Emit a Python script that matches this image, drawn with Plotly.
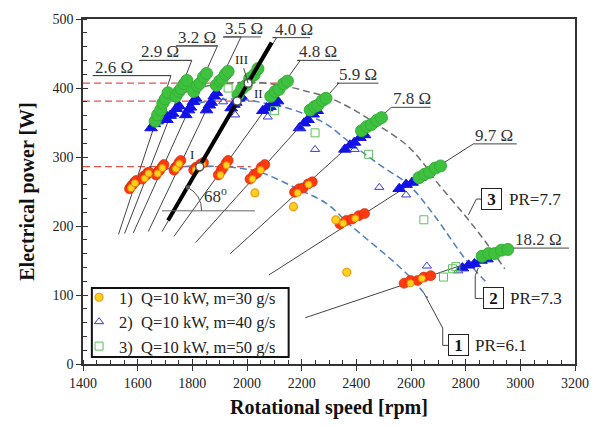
import plotly.graph_objects as go

FONT = "Liberation Serif"

# ---------------- data ----------------
res_labels = ["2.6 Ω", "2.9 Ω", "3.2 Ω", "3.5 Ω", "4.0 Ω", "4.8 Ω", "5.9 Ω", "7.8 Ω", "9.7 Ω", "18.2 Ω"]
line_bottom_x = [1530, 1552, 1584, 1639, 1689, 1733, 1812, 1939, 2080, 2213]
line_bottom_y = [188, 189, 190, 192, 192, 185, 176, 160, 129, 67]
line_top_x = [1722, 1798, 1892, 1978, 2108, 2195, 2336, 2528, 2828, 2972]
line_top_y = [418, 440, 461, 474, 473, 440, 407, 372, 319, 168]
underline_left = [1436, 1606, 1740, 1913, 2094, 2184, 2329, 2528, 2828, 2972]
underline_right = [1722, 1798, 1892, 2051, 2231, 2340, 2481, 2672, 2987, 3178]

# series 1 (m=30 g/s) measured clusters
red_x = [1570, 1577, 1582, 1590, 1595,  1617, 1622, 1630, 1636, 1642,  1667, 1675, 1681, 1690, 1696,
         1733, 1738, 1746, 1751, 1758,  1805, 1813, 1824, 1831, 1841,  1895, 1905, 1912, 1923, 1931,
         2011, 2025, 2037, 2052, 2065,  2174, 2191, 2205, 2224, 2239,  2340, 2363, 2384, 2409, 2430,
         2575, 2598, 2624, 2647, 2672]
red_y = [254, 258, 260, 264, 266,  268, 272, 273, 277, 278,  274, 279, 281, 286, 289,
         281, 285, 287, 292, 295,  281, 285, 286, 290, 292,  274, 280, 284, 291, 295,
         268, 274, 277, 285, 289,  249, 254, 255, 261, 264,  203, 208, 210, 215, 218,
         117, 121, 121, 126, 128]
yel_x = [1576, 1590, 1626, 1640, 1673, 1690, 1740, 1752, 1812, 1836, 1903, 1925, 2020, 2050,
         2185, 2225, 2352, 2396, 2598, 2640]
yel_y = [255, 262, 269, 276, 276, 284, 283, 290, 281, 289, 274, 288, 268, 281,
         248, 260, 204, 211, 117, 124]

# series 2 (m=40 g/s) measured clusters
blue_x = [1649, 1661, 1671, 1685, 1696,  1707, 1719, 1728, 1741, 1751,  1776, 1786, 1793, 1804, 1812,
          1852, 1862, 1869, 1880, 1888,  1942, 1952, 1959, 1970, 1978,  2058, 2072, 2084, 2099, 2112,
          2192, 2209, 2223, 2242, 2257,  2358, 2377, 2393, 2413, 2430,  2557, 2582, 2604, 2631, 2654,
          2788, 2811, 2832, 2856, 2878]
blue_y = [342, 348, 352, 360, 364,  354, 360, 363, 370, 374,  361, 368, 372, 380, 385,
          368, 375, 379, 388, 393,  371, 376, 379, 385, 388,  367, 371, 373, 378, 381,
          342, 349, 354, 362, 367,  311, 317, 321, 328, 332,  254, 260, 263, 270, 274,
          139, 143, 145, 150, 152]

# series 3 (m=50 g/s) measured clusters
green_x = [1664, 1673, 1684, 1692, 1701, 1711,  1740, 1751, 1759, 1771, 1780,  1805, 1818, 1828, 1841, 1852,
           1888, 1900, 1909, 1921, 1931,  1967, 1981, 1997, 2010, 2026, 2040,  2087, 2103, 2117, 2134, 2148,
           2231, 2247, 2259, 2276, 2289,  2419, 2438, 2455, 2475, 2492,  2629, 2650, 2668, 2689, 2708,
           2860, 2884, 2906, 2931, 2954]
green_y = [352, 361, 368, 378, 384, 393,  388, 395, 399, 406, 411,  395, 403, 407, 416, 421,
           404, 410, 413, 420, 424,  390, 399, 404, 414, 419, 428,  388, 395, 398, 406, 410,
           368, 373, 375, 382, 385,  338, 344, 347, 353, 357,  270, 275, 278, 284, 287,
           156, 160, 160, 165, 166]

# scattered single measurements (legend series)
out1_x = [2029, 2170, 2325, 2365]
out1_y = [248, 228, 209, 133]
out2_x = [1913, 1957, 2076, 2195, 2249, 2394, 2484, 2582, 2658, 2773]
out2_y = [380, 361, 358, 342, 311, 311, 256, 245, 142, 135]
out3_x = [1931, 2101, 2249, 2445, 2647, 2719, 2752, 2764]
out3_y = [400, 367, 335, 304, 209, 126, 138, 141]
series_names = ["1)  Q=10 kW, m=30 g/s", "2)  Q=10 kW, m=40 g/s", "3)  Q=10 kW, m=50 g/s"]

# constant pressure-ratio curves
pr61_x = [1617, 1722, 1848, 1967, 2047, 2184, 2293, 2376, 2546, 2611, 2661]
pr61_y = [271, 284, 287, 284, 278, 254, 232, 202, 145, 120, 96]
pr73_x = [1678, 1733, 1798, 1895, 1993, 2065, 2148, 2220, 2293, 2376, 2484, 2593, 2680, 2799, 2872]
pr73_y = [350, 364, 375, 383, 383, 378, 371, 361, 347, 321, 289, 259, 218, 152, 120]
pr77_x = [1769, 1823, 1931, 2040, 2137, 2220, 2293, 2383, 2484, 2582, 2643, 2690, 2755, 2810, 2871, 2943]
pr77_y = [393, 400, 407, 408, 403, 395, 387, 370, 345, 318, 292, 266, 235, 209, 178, 138]

# optimum line and points I, II, III
thick_x = [1711, 2090]
thick_y = [208, 466]
opt_labels = ["I", "II", "III"]
opt_x = [1827, 1964, 2004]
opt_y = [286, 381, 407]
red_line_end = [2014, 2029, 2112]

# PR boxes
pr_num = ["1", "2", "3"]
pr_txt = ["PR=6.1", "PR=7.3", "PR=7.7"]
box_x = [2775, 2900, 2896]
box_y = [27, 95, 239]
prtxt_x = [2828, 2954, 2951]
lead1_x = [2737, 2716, 2716, 2647]; lead1_y = [27, 27, 52, 103]
lead2_x = [2862, 2835, 2835, 2846]; lead2_y = [95, 95, 128, 139]
lead3_x = [2858, 2839, 2810]; lead3_y = [239, 239, 216]

fig = go.Figure()

# red dashed reference levels
for yv, xe in zip(opt_y, red_line_end):
    fig.add_trace(go.Scatter(x=[1400, xe], y=[yv, yv], mode="lines",
                             line=dict(color="#e8504a", width=1.2, dash="7px,4px"),
                             showlegend=False, hoverinfo="skip"))

# PR curves
for cx, cy, col in [(pr61_x, pr61_y, "#4f7fbf"), (pr73_x, pr73_y, "#4f7fbf"), (pr77_x, pr77_y, "#6e6e6e")]:
    fig.add_trace(go.Scatter(x=cx, y=cy, mode="lines", line=dict(color=col, width=1.5, dash="7px,4px", shape="spline"),
                             showlegend=False, hoverinfo="skip"))

# resistance lines with underlines
for i in range(len(res_labels)):
    xs = [line_bottom_x[i], line_top_x[i], underline_left[i], underline_right[i]]
    ys = [line_bottom_y[i], line_top_y[i], line_top_y[i], line_top_y[i]]
    fig.add_trace(go.Scatter(x=xs, y=ys, mode="lines", line=dict(color="#444444", width=1),
                             showlegend=False, hoverinfo="skip"))
    fig.add_annotation(x=underline_left[i], y=line_top_y[i], text=res_labels[i], showarrow=False,
                       xanchor="left", yanchor="bottom", yshift=-3, xshift=0,
                       font=dict(family=FONT, size=17, color="#333333"))

# PR leaders
for lx, ly in [(lead1_x, lead1_y), (lead2_x, lead2_y), (lead3_x, lead3_y)]:
    fig.add_trace(go.Scatter(x=lx, y=ly, mode="lines", line=dict(color="#444444", width=1),
                             showlegend=False, hoverinfo="skip"))

# clusters
fig.add_trace(go.Scatter(x=red_x, y=red_y, mode="markers",
                         marker=dict(symbol="circle", size=10, color="#ff3a10", line=dict(color="#d02000", width=0.6)),
                         showlegend=False, hoverinfo="skip"))
fig.add_trace(go.Scatter(x=yel_x, y=yel_y, mode="markers",
                         marker=dict(symbol="circle", size=7, color="#ffd21f", line=dict(color="#f08c00", width=1)),
                         showlegend=False, hoverinfo="skip"))
fig.add_trace(go.Scatter(x=blue_x, y=blue_y, mode="markers",
                         marker=dict(symbol="triangle-up", size=11, color="#1212e6", line=dict(color="#1212e6", width=1)),
                         showlegend=False, hoverinfo="skip"))
fig.add_trace(go.Scatter(x=green_x, y=green_y, mode="markers",
                         marker=dict(symbol="circle", size=12, color="#3ec13e", line=dict(color="#34b034", width=1)),
                         showlegend=False, hoverinfo="skip"))

# legend series (single points)
fig.add_trace(go.Scatter(x=out1_x, y=out1_y, mode="markers", name=series_names[0],
                         marker=dict(symbol="circle", size=8, color="#ffd21f", line=dict(color="#f39c12", width=1.2))))
fig.add_trace(go.Scatter(x=out2_x, y=out2_y, mode="markers", name=series_names[1],
                         marker=dict(symbol="triangle-up-open", size=8, color="#3a3ad0", line=dict(width=1))))
fig.add_trace(go.Scatter(x=out3_x, y=out3_y, mode="markers", name=series_names[2],
                         marker=dict(symbol="square-open", size=8, color="#5cbf5c", line=dict(width=1))))

# thick optimum line
fig.add_trace(go.Scatter(x=thick_x, y=thick_y, mode="lines", line=dict(color="black", width=4),
                         showlegend=False, hoverinfo="skip"))
fig.add_trace(go.Scatter(x=opt_x, y=opt_y, mode="markers",
                         marker=dict(symbol="circle", size=8, color="white", line=dict(color="#555555", width=1.5)),
                         showlegend=False, hoverinfo="skip"))

# I, II, III labels
fig.add_annotation(x=opt_x[0], y=opt_y[0], text="I", showarrow=False, xshift=-8, yshift=12,
                   font=dict(family=FONT, size=13, color="#222"))
fig.add_annotation(x=opt_x[1], y=opt_y[1], text="II", showarrow=False, xshift=21, yshift=8,
                   font=dict(family=FONT, size=13, color="#222"))
fig.add_annotation(x=opt_x[2], y=opt_y[2], text="III", showarrow=True, ax=-7, ay=-24, arrowhead=0,
                   arrowwidth=1, arrowcolor="#444", font=dict(family=FONT, size=13, color="#222"))

# 68 degree annotation
fig.add_shape(type="line", x0=1689, y0=222, x1=2029, y1=222, line=dict(color="#666", width=1))
fig.add_shape(type="path", path="M 1834,222 Q 1834,245 1783,256", line=dict(color="#555", width=1))
fig.add_trace(go.Scatter(x=[1783], y=[256], mode="markers",
                         marker=dict(symbol="triangle-up", size=6, angle=-60, color="#555"),
                         showlegend=False, hoverinfo="skip"))
fig.add_annotation(x=1884, y=245, text="68<sup>o</sup>", showarrow=False,
                   font=dict(family=FONT, size=17, color="#333"))

# PR boxes
for n, t, bx, by, tx in zip(pr_num, pr_txt, box_x, box_y, prtxt_x):
    fig.add_annotation(x=bx, y=by, text="<b>" + n + "</b>", showarrow=False, width=15, height=16,
                       bordercolor="#222", borderwidth=1, borderpad=2, bgcolor="white",
                       font=dict(family=FONT, size=17, color="#111"))
    fig.add_annotation(x=tx, y=by, text=t, showarrow=False, xanchor="left",
                       font=dict(family=FONT, size=17, color="#222"))

# overlay axes giving the inward half of the major ticks
fig.add_trace(go.Scatter(x=[1400], y=[0], xaxis="x2", yaxis="y2", mode="markers",
                         marker=dict(opacity=0), showlegend=False, hoverinfo="skip"))

# legend frame (drawn as a shape; legend entries sit on top)
fig.add_shape(type="rect", xref="paper", yref="paper", x0=0.018, x1=0.418, y0=0.02, y1=0.2206,
              line=dict(color="#111", width=2), fillcolor="white", layer="above")

axis_common = dict(showgrid=False, zeroline=False, showline=True, linecolor="#333", linewidth=1.5,
                   mirror=True, ticks="outside", ticklen=5, tickcolor="#333", tickwidth=1,
                   tickfont=dict(family=FONT, size=14, color="#222"))
fig.update_layout(
    width=601, height=427,
    margin=dict(l=83, r=20, t=15, b=63),
    paper_bgcolor="white", plot_bgcolor="white",
    font=dict(family=FONT),
    xaxis=dict(range=[1400, 3200], dtick=200, tick0=1400,
               minor=dict(dtick=50, ticks="inside", ticklen=4, tickcolor="#333"),
               title=dict(text="<b>Rotational speed [rpm]</b>", font=dict(family=FONT, size=20, color="#111"), standoff=10),
               **axis_common),
    yaxis=dict(range=[0, 500], dtick=100,
               minor=dict(dtick=20, ticks="inside", ticklen=4, tickcolor="#333"),
               title=dict(text="<b>Electrical power [W]</b>", font=dict(family=FONT, size=20, color="#111"), standoff=12),
               **axis_common),
    xaxis2=dict(overlaying="x", matches="x", range=[1400, 3200], dtick=200, tick0=1400, ticks="inside", ticklen=5,
                tickcolor="#333", showticklabels=False, showgrid=False, zeroline=False, showline=False, side="bottom",
                anchor="y"),
    yaxis2=dict(overlaying="y", range=[0, 500], dtick=100, ticks="inside", ticklen=5, tickcolor="#333",
                showticklabels=False, showgrid=False, zeroline=False, showline=False, side="left", anchor="x"),
    legend=dict(x=-0.008, y=0.0, xanchor="left", yanchor="bottom", bgcolor="rgba(0,0,0,0)",
                borderwidth=0, font=dict(family=FONT, size=16.5, color="#222"), itemwidth=30,
                tracegroupgap=0),
    showlegend=True,
)

fig.write_html("out.html")
